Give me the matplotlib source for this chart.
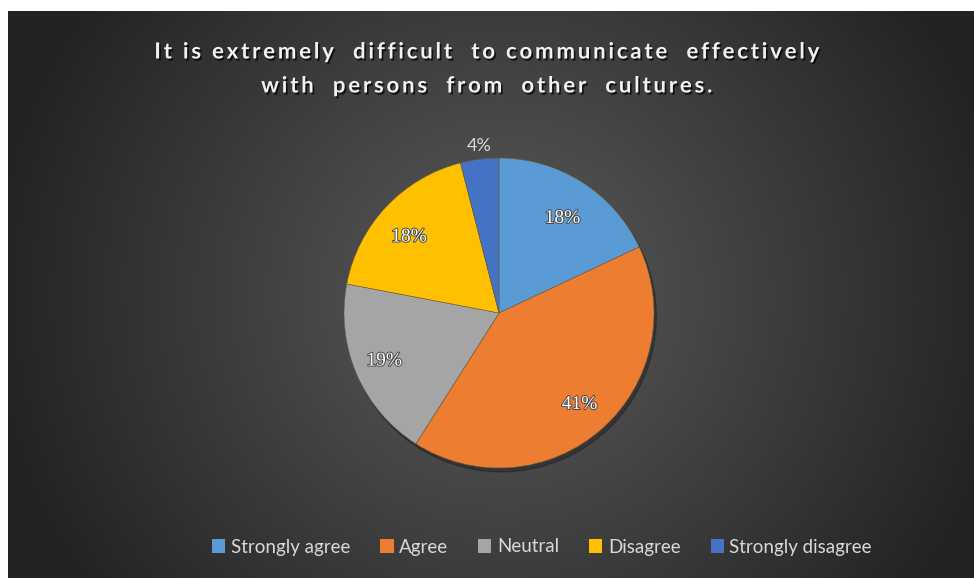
import numpy as np
import matplotlib.pyplot as plt
import matplotlib.patheffects as pe
from matplotlib.patches import Patch, Circle

# survey answers
labels = ['Strongly agree', 'Agree', 'Neutral', 'Disagree', 'Strongly disagree']
shares = [18, 41, 19, 18, 4]
colors = ['#5B9BD5', '#ED7D31', '#A5A5A5', '#FFC000', '#4472C4']
title_lines = ['It is extremely  difficult  to communicate  effectively',
               'with  persons  from  other  cultures.']
# where each percentage sits, in pie-radius units
label_pos = [(0.41, 0.61), (0.52, -0.59), (-0.74, -0.31), (-0.58, 0.49), (-0.13, 1.08)]

W, H = 974, 578
fig = plt.figure(figsize=(W / 100, H / 100), dpi=100, facecolor='white')

# dark panel with a radial gradient (white strip on left / top)
bg = fig.add_axes([8 / W, 0, 1 - 8 / W, (H - 11) / H])
yy, xx = np.mgrid[0:300, 0:500]
r = np.hypot((xx - 255) / 500, (yy - 150) / 300 * 0.6)
shade = np.clip(0.36 - 0.42 * r, 0.14, 0.36)
bg.imshow(shade, cmap='gray', vmin=0, vmax=1, aspect='auto', interpolation='bicubic')
bg.axis('off')


def spaced(s):
    return '\u200a\u200a'.join(s)


for i, line in enumerate(title_lines):
    fig.text(487 / W, 1 - (52 + 34 * i) / H, spaced(line), ha='center', va='center',
             color='#f2f2f2', fontsize=16, fontweight='bold', family=['Lato', 'DejaVu Sans'],
             path_effects=[pe.SimplePatchShadow(offset=(1.2, -1.5), shadow_rgbFace='black', alpha=0.7),
                           pe.Normal()])

# pie axes: center (499, 313) px, radius 155 px
cx, cy, R, half = 499, 313, 155, 210
ax = fig.add_axes([(cx - half) / W, (H - cy - half) / H, 2 * half / W, 2 * half / H])
ax.add_patch(Circle((0.015, -0.025), 1.0, color='black', alpha=0.25, zorder=0))
wedges, texts, autotexts = ax.pie(
    shares, colors=colors, startangle=90, counterclock=False, radius=1,
    autopct='%d%%', pctdistance=0.74,
    wedgeprops=dict(edgecolor='#6b5a3a', linewidth=0.4))
ax.set_xlim(-half / R, half / R)
ax.set_ylim(-half / R, half / R)
ax.axis('off')

for t, pos in zip(autotexts, label_pos):
    t.set_position(pos)
    t.set_fontsize(14)
    t.set_family(['Liberation Serif', 'DejaVu Serif'])
    t.set_color('white')
    t.set_path_effects([pe.Stroke(linewidth=1.4, foreground='#4a4a4a'), pe.Normal()])

# the small slice gets a plain label outside the pie
small = autotexts[-1]
small.set_path_effects([])
small.set_family(['Lato', 'DejaVu Sans'])
small.set_color('#d9d9d9')
small.set_fontsize(13)

handles = [Patch(facecolor=c, edgecolor='none') for c in colors]
leg = fig.legend(handles, labels, loc='center', bbox_to_anchor=(542 / W, 1 - 547 / H),
                 ncol=5, frameon=False, handlelength=0.7, handleheight=0.7,
                 handletextpad=0.3, columnspacing=1.6,
                 prop={'family': ['Lato', 'DejaVu Sans'], 'size': 13.5})
for t in leg.get_texts():
    t.set_color('#d9d9d9')

fig.savefig('out.png', dpi=100, facecolor=fig.get_facecolor())
